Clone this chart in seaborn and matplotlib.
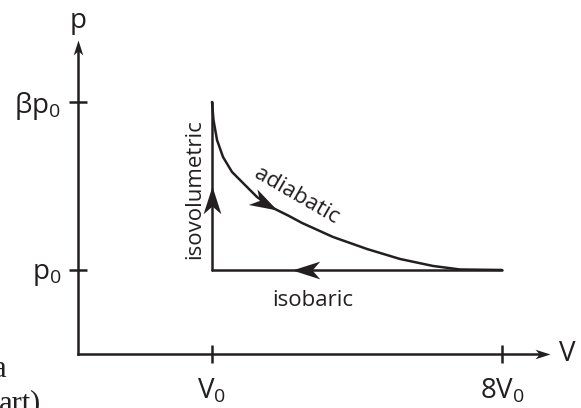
import numpy as np
import matplotlib.pyplot as plt
import seaborn as sns
from matplotlib.path import Path
from matplotlib.markers import MarkerStyle
from matplotlib.transforms import Affine2D

# p-V cycle, V in units of V0, p in units of p0 (schematic scale, beta drawn at 3)
v_ticks = [1, 8]
v_tick_labels = [r'$\mathregular{V_0}$', r'$\mathregular{8V_0}$']
p_ticks = [1, 3]
p_tick_labels = [r'$\mathregular{p_0}$', r'$\mathregular{βp_0}$']

adiabatic_v = [1.0, 1.036, 1.121, 1.266, 1.483, 1.772, 2.086, 2.472, 2.859,
               3.172, 3.921, 4.741, 5.538, 6.334, 6.986, 8.0]
adiabatic_p = [3.0, 2.786, 2.548, 2.345, 2.167, 2.024, 1.869, 1.738, 1.643,
               1.56, 1.393, 1.25, 1.131, 1.048, 1.006, 1.0]
isobaric_v = [8, 1]
isobaric_p = [1, 1]
isochoric_v = [1, 1]
isochoric_p = [1, 3]

ink = '#231f20'

sns.set_style('ticks')
plt.rcParams['font.family'] = ['Open Sans', 'DejaVu Sans']
plt.rcParams['mathtext.fontset'] = 'custom'
plt.rcParams['mathtext.rm'] = 'Open Sans'
plt.rcParams['mathtext.it'] = 'Open Sans:italic'

fig = plt.figure(figsize=(5.81, 4.08), dpi=100)
ax = fig.add_axes([0, 0, 1, 1])
ax.set_xlim(-4.117, 9.907)
ax.set_ylim(-0.643, 4.214)
ax.patch.set_alpha(0)

# axes drawn as spines with arrow tips
v_axis, v_end = -2.234, 9.158
p_end = 3.738
ax.spines['left'].set_position(('data', v_axis))
ax.spines['left'].set_bounds(0, p_end - 0.08)
ax.spines['bottom'].set_position(('data', 0))
ax.spines['bottom'].set_bounds(v_axis, v_end - 0.17)
ax.spines[['top', 'right']].set_visible(False)
for s in ['left', 'bottom']:
    ax.spines[s].set_linewidth(1.8)
    ax.spines[s].set_color(ink)
    ax.spines[s].set_capstyle('projecting')

ax.set_xticks(v_ticks, v_tick_labels)
ax.set_yticks(p_ticks, p_tick_labels)
ax.tick_params(direction='inout', length=13, width=1.8, color=ink,
               labelcolor=ink, labelsize=20)
ax.tick_params(axis='x', pad=10)
ax.tick_params(axis='y', pad=5.5)

# cycle
sns.lineplot(x=adiabatic_v, y=adiabatic_p, sort=False, estimator=None,
             color=ink, lw=1.8, ax=ax)
sns.lineplot(x=isobaric_v, y=isobaric_p, sort=False, estimator=None,
             color=ink, lw=1.8, ax=ax)
sns.lineplot(x=isochoric_v, y=isochoric_p, sort=False, estimator=None,
             color=ink, lw=1.8, ax=ax)

# stealth arrowhead, tip at origin pointing +x
head = Path([(0, 0), (-1, 0.32), (-0.72, 0), (-1, -0.32), (0, 0)],
            [Path.MOVETO, Path.LINETO, Path.LINETO, Path.LINETO, Path.CLOSEPOLY])


def arrow(x, y, angle, size):
    m = MarkerStyle(head, transform=Affine2D().rotate_deg(angle))
    ax.plot([x], [y], marker=m, markersize=size, color=ink,
            markeredgewidth=0, clip_on=False, zorder=5)


def display_angle(x0, y0, x1, y1):
    (a, b), (c, d) = ax.transData.transform([(x0, y0), (x1, y1)])
    return np.degrees(np.arctan2(d - b, c - a))


arrow(v_axis, p_end, 90, 21.6)
arrow(v_end, 0, 0, 21.6)

# direction arrows along the cycle
p_up = isochoric_p[0] + 0.5 * (isochoric_p[1] - isochoric_p[0])
arrow(isochoric_v[0], p_up, 90, 40)

v_left = isobaric_v[1] + 0.275 * (isobaric_v[0] - isobaric_v[1])
arrow(v_left, isobaric_p[0], 180, 40)

v_tip = 2.57
p_tip = np.interp(v_tip, adiabatic_v, adiabatic_p)
ang = display_angle(v_tip - 0.2, np.interp(v_tip - 0.2, adiabatic_v, adiabatic_p),
                    v_tip + 0.2, np.interp(v_tip + 0.2, adiabatic_v, adiabatic_p))
arrow(v_tip, p_tip, ang, 40)

# labels
ax.text(v_axis, 3.881, 'p', ha='center', va='baseline', fontsize=20, color=ink)
ax.text(9.375, 0, 'V', ha='left', va='center', fontsize=20, color=ink)
ax.text(0.59, 1.964, 'isovolumetric', rotation=90, ha='center', va='center',
        fontsize=16, color=ink)
ax.text(3.03, 1.88, 'adiabatic', rotation=-30, rotation_mode='anchor',
        ha='center', va='center', fontsize=16, color=ink)
ax.text(3.43, 0.571, 'isobaric', ha='center', va='baseline',
        fontsize=16, color=ink)

# cropped caption fragments at lower left
fig.text(6 / 581, 1 - 377 / 408, 'a', ha='right', va='baseline',
         family='Liberation Serif', fontsize=22, color=ink)
fig.text(41 / 581, 1 - 411 / 408, 'art)', ha='right', va='baseline',
         family='Liberation Serif', fontsize=22, color=ink)

fig.savefig('out.png', dpi=100, facecolor='white')
